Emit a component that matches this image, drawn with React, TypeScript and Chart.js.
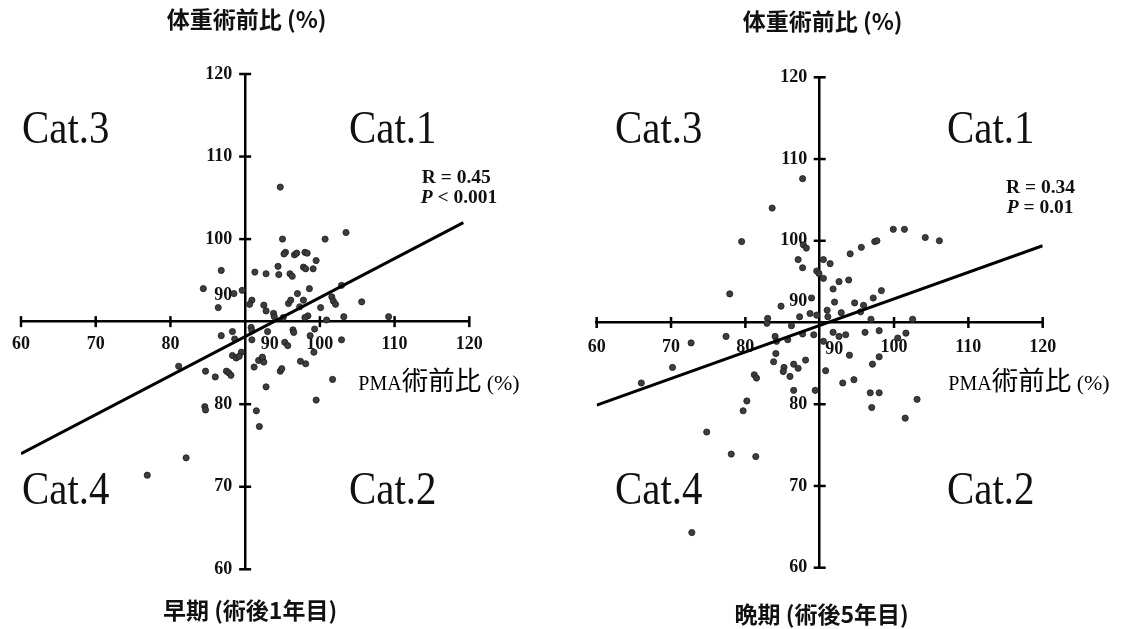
import React, { useEffect, useRef } from 'react';
import { Chart, registerables, LinearScale } from 'chart.js';

Chart.register(...registerables);

// ---------- data ----------
const tickValues = [60, 70, 80, 90, 100, 110, 120];

// 早期 (術後1年目): PMA術前比 (x) vs 体重術前比 (y)
const earlyX = [
  94.7, 95.0, 100.7, 103.5, 95.4, 95.2, 96.6, 96.9, 98.0, 98.3, 99.5, 97.8, 98.1, 99.1, 94.4, 94.5,
  96.0, 96.3, 91.3, 92.8, 86.8, 84.4, 88.5, 89.6, 86.4, 90.9, 90.6, 92.5, 92.8, 93.8, 97.0, 98.6,
  97.8, 95.8, 96.1, 97.3, 100.1, 101.6, 101.8, 102.1, 102.9, 105.6, 103.2, 98.4, 98.0, 100.9, 109.2, 93.9,
  95.1, 90.8, 90.9, 88.3, 86.8, 88.6, 90.9, 93.0, 96.4, 96.5, 99.3, 98.7, 95.3, 95.7, 99.2, 102.9,
  89.5, 88.3, 88.8, 89.2, 91.8, 92.3, 92.5, 92.3, 91.2, 97.4, 98.1, 94.7, 94.9, 81.1, 84.7, 86.0,
  87.5, 87.8, 88.1, 92.8, 101.7, 99.5, 84.6, 84.7, 91.5, 91.9, 82.1, 76.9,
];
const earlyY = [
  106.3, 100.0, 100.0, 100.8, 98.4, 98.2, 98.1, 98.3, 98.4, 98.3, 97.4, 96.6, 96.4, 96.4, 96.7, 95.7,
  95.8, 95.5, 96.0, 95.8, 96.2, 94.0, 93.4, 93.8, 91.7, 92.6, 92.1, 92.0, 91.3, 91.0, 93.4, 94.0,
  92.6, 92.2, 92.6, 91.8, 91.7, 93.0, 92.5, 92.1, 94.4, 92.4, 90.6, 90.7, 90.5, 90.2, 90.6, 90.6,
  90.5, 89.3, 88.9, 88.8, 88.3, 87.9, 87.8, 88.8, 89.0, 88.7, 89.1, 88.3, 87.5, 87.1, 86.3, 87.8,
  86.3, 85.9, 85.6, 85.8, 85.3, 85.5, 85.1, 85.7, 84.5, 85.2, 84.9, 84.0, 84.3, 84.6, 84.0, 83.3,
  84.0, 83.8, 83.5, 82.1, 83.0, 80.5, 79.7, 79.3, 79.2, 77.3, 73.5, 71.4,
];
const earlyFitX = [60, 119.2];
const earlyFitY = [74.0, 102.0];

// 晩期 (術後5年目)
const lateX = [
  87.7, 83.6, 79.5, 87.8, 88.2, 87.1, 87.7, 89.6, 89.9, 90.5, 91.4, 90.5, 92.6, 93.9, 94.1, 95.6,
  97.4, 97.7, 99.9, 101.4, 104.2, 106.1, 91.8, 92.0, 94.7, 95.9, 97.2, 98.3, 77.9, 84.8, 88.9, 88.7,
  89.6, 91.0, 91.1, 92.9, 95.5, 87.3, 83.0, 96.9, 102.5, 86.2, 82.9, 77.4, 84.0, 84.2, 84.1, 83.8,
  85.7, 87.7, 89.2, 66.0, 70.2, 72.7, 85.2, 85.1, 86.0, 86.5, 87.1, 88.1, 81.2, 81.5, 86.5, 89.4,
  80.2, 79.7, 74.8, 78.1, 81.4, 72.8, 90.8, 90.5, 91.8, 92.6, 93.5, 93.1, 94.0, 96.1, 98.0, 100.5,
  101.6, 97.1, 98.0, 94.6, 96.8, 98.0, 97.0, 103.1, 101.5,
];
const lateY = [
  107.6, 104.0, 99.9, 99.5, 99.1, 97.7, 96.7, 96.3, 96.0, 97.7, 97.2, 95.4, 95.0, 95.2, 98.4, 99.2,
  99.9, 100.0, 101.4, 101.4, 100.4, 100.0, 94.1, 92.5, 92.4, 92.1, 93.0, 93.9, 93.5, 92.0, 93.0, 91.1,
  90.9, 91.5, 90.7, 91.2, 91.3, 90.7, 90.5, 90.4, 90.4, 89.6, 89.9, 88.3, 88.3, 87.7, 86.2, 85.2,
  87.9, 88.6, 88.5, 82.6, 84.5, 87.5, 84.5, 84.0, 83.4, 84.9, 84.4, 85.4, 83.6, 83.2, 81.7, 81.7,
  80.4, 79.2, 76.6, 73.9, 73.6, 64.3, 84.1, 87.7, 88.8, 88.3, 88.5, 82.6, 86.0, 88.8, 89.0, 88.1,
  88.7, 84.9, 85.8, 83.0, 81.4, 81.4, 79.6, 80.6, 78.3,
];
const lateFitX = [60, 120];
const lateFitY = [79.9, 99.4];

// texts
const yAxisTitle = '体重術前比 (%)';
const xAxisTitleLatin = 'PMA';
const xAxisTitleCjk = '術前比';
const xAxisTitleUnit = ' (%)';
const earlyTitle = '早期 (術後1年目)';
const lateTitle = '晩期 (術後5年目)';
const earlyStats = ['R = 0.45', '< 0.001'];
const lateStats = ['R = 0.34', '= 0.01'];
const catLabels = ['Cat.1', 'Cat.2', 'Cat.3', 'Cat.4'];

const SERIF = '"Liberation Serif", "Times New Roman", "Noto Sans CJK JP", serif';
const SANS_CJK = '"Noto Sans CJK JP", "Noto Sans", sans-serif';

type Shift = (axis: string, value: number) => [number, number];

// linear scale whose tick labels can be nudged (labels beside a centred axis)
function registerShiftedScale(id: string, shift: Shift) {
  const Base: any = LinearScale;
  class Shifted extends Base {
    static id = id;
    static defaults = Base.defaults;
    _computeLabelItems(chartArea: any) {
      const items = super._computeLabelItems(chartArea);
      const ticks = (this as any).ticks || [];
      items.forEach((it: any, i: number) => {
        const t = ticks[i];
        if (!t || !it.options || !it.options.translation) return;
        const [dx, dy] = shift((this as any).axis, t.value);
        it.options.translation = [it.options.translation[0] + dx, it.options.translation[1] + dy];
      });
      return items;
    }
  }
  Chart.register(Shifted as any);
}

registerShiftedScale('shiftedEarly', (axis, v) => {
  if (axis === 'x') return v === 90 ? [24.5, 0] : [0, 0];
  return v === 90 ? [-13, -26] : [-13, 0];
});
registerShiftedScale('shiftedLate', (axis, v) => {
  if (axis === 'x') return v === 90 ? [14.5, 4] : [0, 2];
  return v === 90 ? [-12.5, -21] : [-12.5, 0];
});

const crossTicks = {
  id: 'crossTicks',
  beforeDatasetsDraw(chart: any) {
    const { ctx, scales } = chart;
    const xs = scales.x;
    const ys = scales.y;
    const x0 = xs.getPixelForValue(90);
    const y0 = ys.getPixelForValue(90);
    ctx.save();
    ctx.strokeStyle = '#000';
    ctx.lineWidth = 2.5;
    for (const v of tickValues) {
      if (v === 90) continue;
      const px = xs.getPixelForValue(v);
      ctx.beginPath();
      ctx.moveTo(px, y0 - 5.5);
      ctx.lineTo(px, y0 + 5.5);
      ctx.stroke();
      const py = ys.getPixelForValue(v);
      ctx.beginPath();
      ctx.moveTo(x0 - 6, py);
      ctx.lineTo(x0 + 6, py);
      ctx.stroke();
    }
    ctx.restore();
  },
};

type PanelProps = {
  xs: number[];
  ys: number[];
  fitX: number[];
  fitY: number[];
  left: number;
  width: number;
  scaleType: string;
  padding: { left: number; right: number; top: number; bottom: number };
};

function ScatterPanel({ xs, ys, fitX, fitY, left, width, scaleType, padding }: PanelProps) {
  const ref = useRef<HTMLCanvasElement | null>(null);
  useEffect(() => {
    if (!ref.current) return;
    const tickFont = { family: SERIF, size: 18, weight: 'bold' as const };
    const axisCommon = {
      type: scaleType,
      min: 60,
      max: 120,
      grid: { display: false, drawTicks: false },
      border: { display: true, color: '#000', width: 2.5 },
      ticks: {
        stepSize: 10,
        padding: 12,
        color: '#111',
        font: tickFont,
        autoSkip: false,
        maxRotation: 0,
      },
    };
    const chart = new Chart(ref.current, {
      type: 'scatter',
      data: {
        datasets: [
          {
            data: xs.map((x, i) => ({ x, y: ys[i] })),
            pointRadius: 3.1,
            pointBackgroundColor: '#3d3d3d',
            pointBorderColor: '#1c1c1c',
            pointBorderWidth: 0.8,
            order: 2,
          } as any,
          {
            type: 'line',
            data: fitX.map((x, i) => ({ x, y: fitY[i] })),
            borderColor: '#000',
            borderWidth: 3,
            pointRadius: 0,
            fill: false,
            tension: 0,
            order: 1,
          } as any,
        ],
      },
      options: {
        responsive: false,
        animation: false,
        layout: { padding },
        plugins: { legend: { display: false }, tooltip: { enabled: false } },
        scales: {
          x: { ...axisCommon, position: { y: 90 } } as any,
          y: { ...axisCommon, position: { x: 90 } } as any,
        },
      },
      plugins: [crossTicks],
    });
    return () => chart.destroy();
  }, []);
  return (
    <canvas
      ref={ref}
      width={width}
      height={629}
      style={{ position: 'absolute', left, top: 0, width, height: 629 }}
    />
  );
}

const abs = (s: React.CSSProperties): React.CSSProperties => ({
  position: 'absolute',
  whiteSpace: 'nowrap',
  lineHeight: 1,
  margin: 0,
  color: '#111',
  ...s,
});

function Cat({ text, left, baseline }: { text: string; left: number; baseline: number }) {
  const fs = 47;
  return (
    <div
      style={abs({
        left,
        top: baseline - 0.8375 * fs,
        fontFamily: SERIF,
        fontSize: fs,
        transform: 'scaleX(0.87)',
        transformOrigin: 'left top',
      })}
    >
      {text}
    </div>
  );
}

function Serif({ text, left, baseline, size = 19.5, italicP = false }: any) {
  return (
    <div
      style={abs({
        left,
        top: baseline - 0.8375 * size,
        fontFamily: SERIF,
        fontSize: size,
        fontWeight: 'bold',
      })}
    >
      {italicP ? <i>P</i> : null}
      {italicP ? ' ' : null}
      {text}
    </div>
  );
}

function CenterText({ text, cx, cy, size = 23 }: any) {
  return (
    <div
      style={abs({
        left: cx,
        top: cy,
        transform: 'translate(-50%, -50%)',
        fontFamily: SANS_CJK,
        fontSize: size,
        fontWeight: 'bold',
      })}
    >
      {text}
    </div>
  );
}

function XTitle({ left, baseline }: { left: number; baseline: number }) {
  return (
    <div
      style={abs({
        left,
        top: baseline - 21,
        fontFamily: SERIF,
        fontSize: 20,
        lineHeight: '26px',
        color: '#000',
      })}
    >
      <span style={{ fontSize: 20 }}>{xAxisTitleLatin}</span>
      <span style={{ fontFamily: SANS_CJK, fontSize: 26.5 }}>{xAxisTitleCjk}</span>
      <span style={{ fontSize: 22 }}>{xAxisTitleUnit}</span>
    </div>
  );
}

export default function App() {
  return (
    <div
      style={{
        position: 'absolute',
        left: 0,
        top: 0,
        width: 1131,
        height: 629,
        background: '#fff',
        overflow: 'hidden',
      }}
    >
      <ScatterPanel
        xs={earlyX}
        ys={earlyY}
        fitX={earlyFitX}
        fitY={earlyFitY}
        left={0}
        width={566}
        scaleType="shiftedEarly"
        padding={{ left: 16.7, right: 96.7, top: 74, bottom: 59.7 }}
      />
      <ScatterPanel
        xs={lateX}
        ys={lateY}
        fitX={lateFitX}
        fitY={lateFitY}
        left={566}
        width={565}
        scaleType="shiftedLate"
        padding={{ left: 30.7, right: 88.3, top: 77.3, bottom: 61.3 }}
      />

      {/* left panel texts */}
      <CenterText text={yAxisTitle} cx={246.7} cy={18} />
      <CenterText text={earlyTitle} cx={250} cy={609} />
      <Cat text={catLabels[2]} left={21.7} baseline={143.3} />
      <Cat text={catLabels[0]} left={349.3} baseline={143.3} />
      <Cat text={catLabels[3]} left={21.7} baseline={504} />
      <Cat text={catLabels[1]} left={349.3} baseline={504} />
      <Serif text={earlyStats[0]} left={421.7} baseline={183.3} />
      <Serif text={earlyStats[1]} left={420.7} baseline={203.5} italicP />
      <XTitle left={358.3} baseline={386.7} />

      {/* right panel texts */}
      <CenterText text={yAxisTitle} cx={822.7} cy={20} />
      <CenterText text={lateTitle} cx={821.7} cy={612.5} />
      <Cat text={catLabels[2]} left={615} baseline={143.3} />
      <Cat text={catLabels[0]} left={946.7} baseline={143.3} />
      <Cat text={catLabels[3]} left={615} baseline={504} />
      <Cat text={catLabels[1]} left={946.7} baseline={504} />
      <Serif text={lateStats[0]} left={1006} baseline={193} />
      <Serif text={lateStats[1]} left={1006.7} baseline={213} italicP />
      <XTitle left={948.3} baseline={387.3} />
    </div>
  );
}
